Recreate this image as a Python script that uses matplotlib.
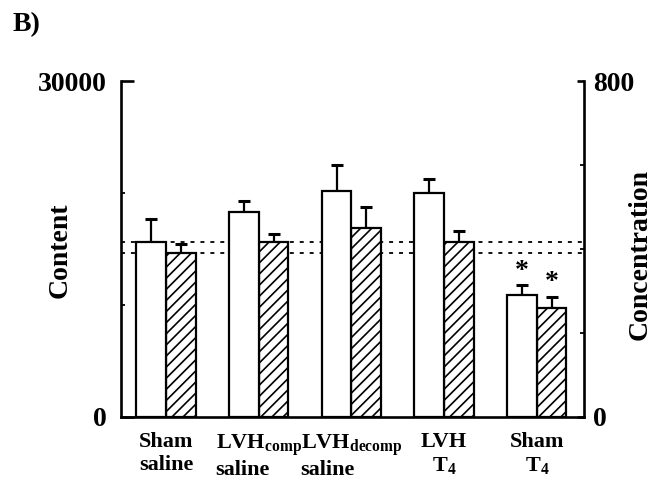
import matplotlib
matplotlib.use("Agg")
import matplotlib.pyplot as plt
import numpy as np

# ---- data ----
groups = ["Sham\nsaline", "LVH$_{comp}$\nsaline", "LVH$_{decomp}$\nsaline", "LVH\nT$_4$", "Sham\nT$_4$"]
label_align = ["center", "left", "left", "center", "center"]
content = [15650, 18330, 20180, 19970, 10890]
content_err = [2030, 950, 2320, 1310, 860]
conc = [390, 417, 449, 417, 260]
conc_err = [23, 18, 52, 26, 26]
significant = [False, False, False, False, True]

plt.rcParams['font.family'] = ['Liberation Serif', 'DejaVu Serif']
plt.rcParams['font.weight'] = 'bold'
plt.rcParams['mathtext.fontset'] = 'custom'
plt.rcParams['mathtext.rm'] = 'Liberation Serif:bold'
plt.rcParams['mathtext.bf'] = 'Liberation Serif:bold'
plt.rcParams['mathtext.it'] = 'Liberation Serif:bold'
plt.rcParams['mathtext.default'] = 'rm'
plt.rcParams['hatch.linewidth'] = 1.2

fig = plt.figure(figsize=(6.61, 4.82), dpi=100)
pos = [120.7 / 661, 1 - 417 / 482, 463.3 / 661, 336 / 482]
ax2 = fig.add_axes(pos)          # right axis (concentration), drawn underneath
ax = fig.add_axes(pos, sharex=ax2)  # left axis (content), on top
ax.patch.set_visible(False)

x = np.arange(len(groups))
w = 0.32
xlim = (-0.489, 4.509)

# dotted reference lines (behind all bars)
ax2.plot(xlim, [content[0]] * 2, transform=ax.transData, color='black',
         lw=1.3, linestyle=(0, (2.2, 3.3)), zorder=1)
ax2.axhline(conc[0], color='black', lw=1.3, linestyle=(0, (2.2, 3.3)), zorder=1)

# hatched bars (concentration)
ax2.bar(x + w / 2, conc, w, color='white', edgecolor='black', lw=1.6,
        hatch='///', zorder=3)
ax2.errorbar(x + w / 2, conc, yerr=[np.zeros(len(conc)), conc_err], fmt='none',
             ecolor='black', elinewidth=1.6, capsize=4.2, capthick=2.2, zorder=2)

# white bars (content)
ax.bar(x - w / 2, content, w, color='white', edgecolor='black', lw=1.6, zorder=3)
ax.errorbar(x - w / 2, content, yerr=[np.zeros(len(content)), content_err], fmt='none',
            ecolor='black', elinewidth=1.6, capsize=4.2, capthick=2.2, zorder=2)

for i, sig in enumerate(significant):
    if sig:
        ax.annotate('*', xy=(x[i] - w / 2, content[i] + content_err[i]), xytext=(0, 1),
                    textcoords='offset points', ha='center', va='bottom', fontsize=20)
        ax2.annotate('*', xy=(x[i] + w / 2, conc[i] + conc_err[i]), xytext=(0, 1),
                     textcoords='offset points', ha='center', va='bottom', fontsize=20)

ax.set_xlim(*xlim)
ax.set_ylim(0, 30000)
ax2.set_ylim(0, 800)

# spines
for s in ['top', 'right']:
    ax.spines[s].set_visible(False)
for s in ['top', 'left', 'bottom']:
    ax2.spines[s].set_visible(False)
for sp in [ax.spines['left'], ax.spines['bottom'], ax2.spines['right']]:
    sp.set_linewidth(1.9)

# left ticks
ax.set_yticks([0, 30000])
ax.set_yticklabels(['0', '30000'])
ax.set_yticks([10000, 20000], minor=True)
ax.tick_params(axis='y', which='major', direction='in', length=9, width=1.9,
               labelsize=20, pad=10)
ax.tick_params(axis='y', which='minor', direction='in', length=3, width=1.3)

# right ticks
ax2.yaxis.tick_right()
ax2.set_yticks([0, 800])
ax2.set_yticklabels(['0', '800'])
ax2.set_yticks([200, 400, 600], minor=True)
ax2.tick_params(axis='y', which='major', direction='in', length=5, width=1.9,
                labelsize=20, pad=6.5)
ax2.tick_params(axis='y', which='minor', direction='in', length=3, width=1.3)

# x labels
ax2.tick_params(axis='x', which='both', length=0, labelbottom=False)
ax.set_xticks(x)
ax.set_xticklabels(groups, fontsize=16, linespacing=1.15)
for lbl, al in zip(ax.get_xticklabels(), label_align):
    lbl.set_multialignment(al)
ax.tick_params(axis='x', length=0, pad=11)

fig.text(60 / 661, 1 - 250 / 482, 'Content', rotation=90, ha='center', va='center',
         fontsize=20, fontweight='bold')
fig.text(640 / 661, 1 - 254 / 482, 'Concentration', rotation=90, ha='center', va='center',
         fontsize=20, fontweight='bold')
fig.text(13 / 661, 1 - 12 / 482, 'B)', ha='left', va='top', fontsize=20, fontweight='bold')

fig.savefig('out.png', dpi=100)
